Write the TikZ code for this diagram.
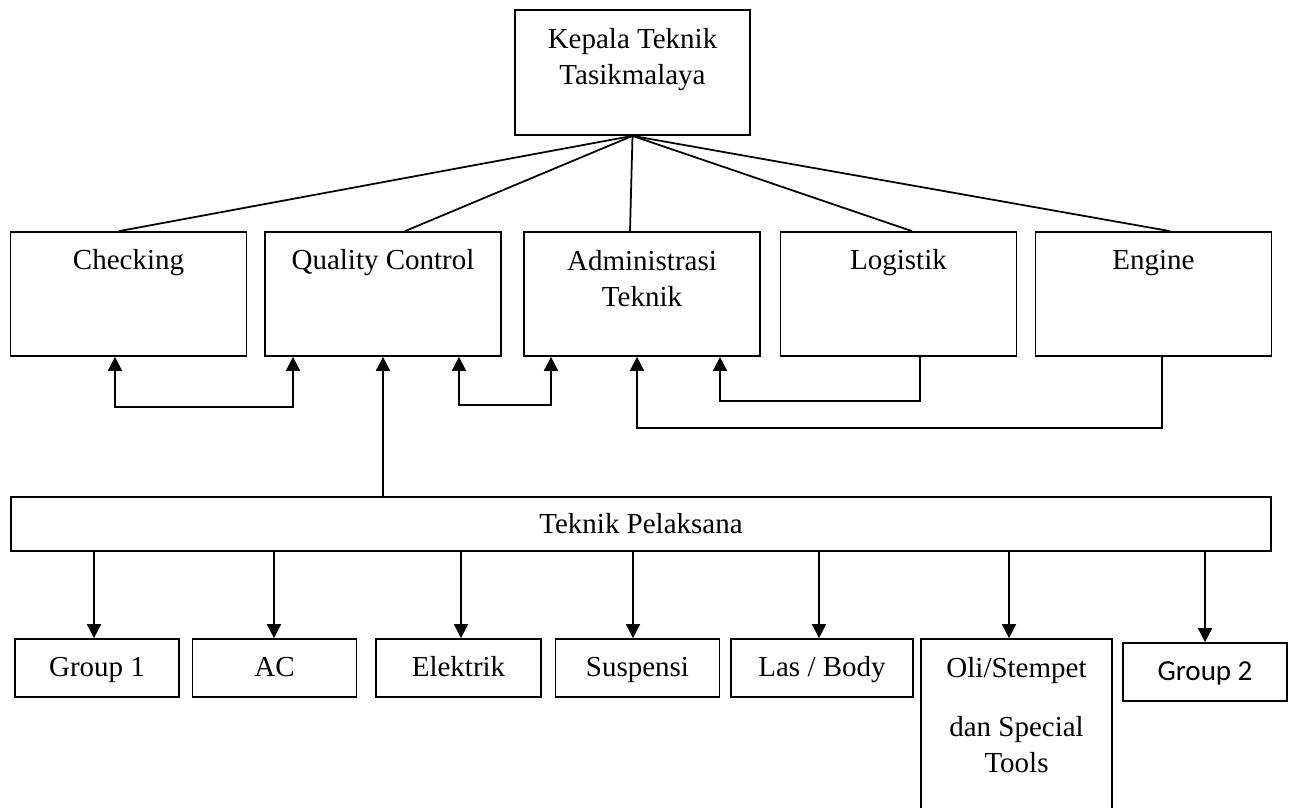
\documentclass[tikz,border=0pt]{standalone}
\usepackage{fontspec}
\setmainfont{Liberation Serif}
\newfontfamily\calibri{Carlito}
\usetikzlibrary{arrows.meta}

\begin{document}
\begin{tikzpicture}[x=0.02cm, y=-0.02cm, line width=1pt,
  font=\fontsize{16.5}{20.5}\selectfont,
  box/.style={draw, minimum width=4.72cm, minimum height=2.48cm, inner sep=0pt},
  small/.style={draw, minimum width=3.28cm, minimum height=1.16cm, inner sep=0pt},
  txt/.style={anchor=base, yshift=-0.76cm, align=center},
  arr/.style={-{Triangle[length=0.28cm, width=0.28cm]}},
  dbl/.style={{Triangle[length=0.28cm, width=0.28cm]}-{Triangle[length=0.28cm, width=0.28cm]}}]
\useasboundingbox (0,0) rectangle (1292,808);

\node[box, minimum width=4.7cm, minimum height=2.5cm, label={[txt, yshift=-0.74cm]north:{Kepala Teknik\\Tasikmalaya}}] (kep) at (632.5,72.5) {};

\node[box, label={[txt]north:Checking}] (chk) at (128.5,294) {};
\node[box, label={[txt]north:Quality Control}] (qc) at (383,294) {};
\node[box, label={[txt, yshift=-0.74cm]north:{Administrasi\\Teknik}}] (adm) at (642,294) {};
\node[box, label={[txt]north:Logistik}] (log) at (898.5,294) {};
\node[box, label={[txt]north:Engine}] (eng) at (1153.5,294) {};

\node[draw, minimum width=25.2cm, minimum height=1.08cm, inner sep=0pt] (tp) at (641,524) {Teknik Pelaksana};

\node[small, label={[txt]north:Group 1}] (g1) at (97,668) {};
\node[small, label={[txt]north:AC}] (ac) at (274.5,668) {};
\node[small, minimum width=3.3cm, label={[txt]north:Elektrik}] (el) at (458.5,668) {};
\node[small, label={[txt]north:Suspensi}] (sus) at (637.5,668) {};
\node[small, minimum width=3.64cm, label={[txt]north:Las / Body}] (las) at (822,668) {};
\node[small, minimum width=3.82cm, minimum height=3.9cm, label={[txt, yshift=-1.92cm]north:{Oli/Stempet\\[0.46cm]dan Special\\Tools}}] (oli) at (1016.5,736.5) {};
\node[small, label={[txt, font=\calibri\fontsize{16.5}{20.5}\selectfont]north:Group 2}] (g2) at (1205,672) {};

% garis dari kepala teknik
\foreach \b/\dx in {chk/-0.19, qc/0.44, adm/-0.24, log/0.27, eng/0.33}
  \draw (kep.south) -- ([xshift=\dx cm]\b.north);

% hubungan antar bagian
\coordinate (c1a) at (115,407);
\coordinate (c1b) at (293,407);
\draw[dbl] (c1a |- chk.south) -- (c1a) -- (c1b) -- (c1b |- qc.south);
\coordinate (c3a) at (459,405);
\coordinate (c3b) at (551,405);
\draw[dbl] (c3a |- qc.south) -- (c3a) -- (c3b) -- (c3b |- adm.south);
\coordinate (c4a) at (720,401);
\coordinate (c4b) at (920,401);
\draw[arr] (c4b |- log.south) -- (c4b) -- (c4a) -- (c4a |- adm.south);
\coordinate (c5a) at (637,428);
\coordinate (c5b) at (1162,428);
\draw[arr] (c5b |- eng.south) -- (c5b) -- (c5a) -- (c5a |- adm.south);

\draw[arr] (qc.south |- tp.north) -- (qc.south);

% teknik pelaksana ke group
\foreach \b/\dx in {g1/-0.06, ac/-0.01, el/0.05, sus/-0.09, las/-0.06, oli/-0.15, g2/0}
  \draw[arr] ([xshift=\dx cm]\b.north |- tp.south) -- ([xshift=\dx cm]\b.north);
\end{tikzpicture}
\end{document}
